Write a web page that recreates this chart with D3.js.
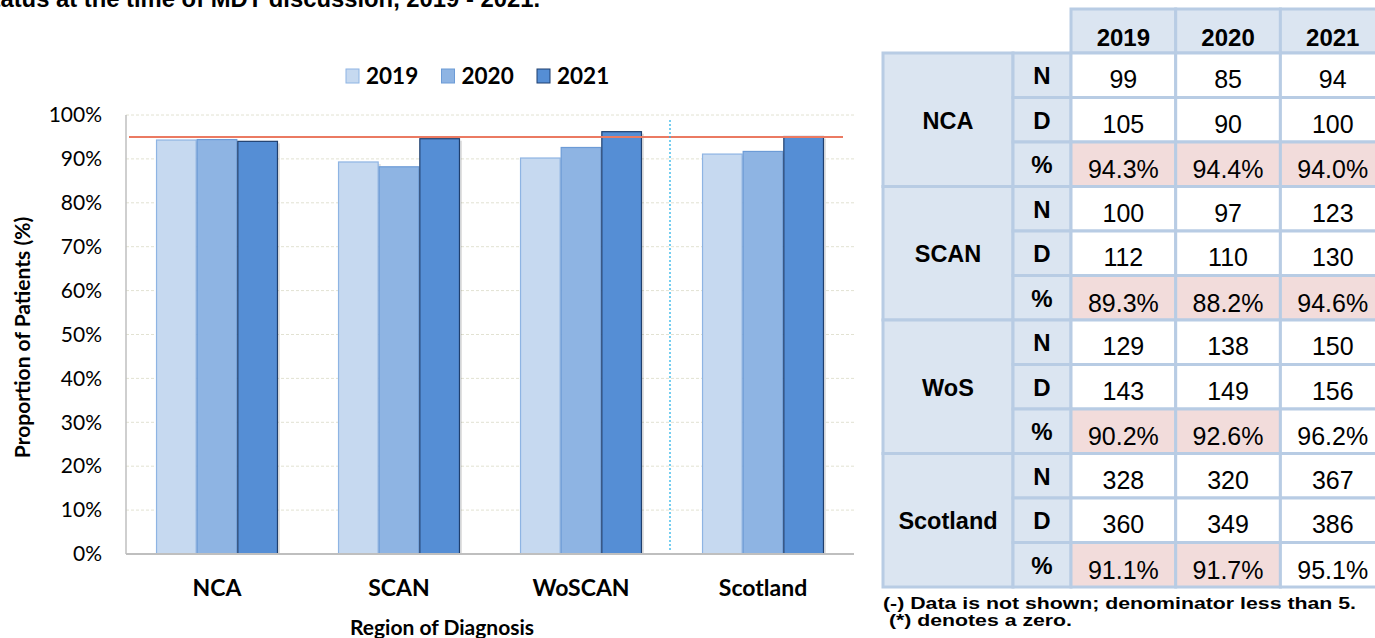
<!DOCTYPE html>
<html>
<head>
<meta charset="utf-8">
<script src="https://cdn.jsdelivr.net/npm/d3@7"></script>
<style>
  html, body { margin: 0; padding: 0; background: #fff; }
  svg { display: block; }
</style>
</head>
<body>
<svg id="chart" width="1375" height="638"></svg>
<script>
// ---- data ----
const years = ["2019", "2020", "2021"];
const chartRegions = ["NCA", "SCAN", "WoSCAN", "Scotland"];
const tableRegions = ["NCA", "SCAN", "WoS", "Scotland"];
const numerators = [
  [99, 85, 94],
  [100, 97, 123],
  [129, 138, 150],
  [328, 320, 367]
];
const denominators = [
  [105, 90, 100],
  [112, 110, 130],
  [143, 149, 156],
  [360, 349, 386]
];
const percents = [
  [94.3, 94.4, 94.0],
  [89.3, 88.2, 94.6],
  [90.2, 92.6, 96.2],
  [91.1, 91.7, 95.1]
];
const target = 95;
const yTicks = [0, 10, 20, 30, 40, 50, 60, 70, 80, 90, 100];
const rowLabels = ["N", "D", "%"];
const footnotes = ["(-) Data is not shown; denominator less than 5.", " (*) denotes a zero."];

// ---- styles ----
const barFill = ["#C6D9F0", "#8EB4E3", "#558ED5"];
const barStroke = ["#8EB4E3", "#6C9BD6", "#1F3F6E"];
const chartFont = "Lato, 'Open Sans', sans-serif";
const tableFont = "'Liberation Sans', Arial, sans-serif";

const svg = d3.select("#chart");

// partially visible heading
svg.append("text")
  .attr("x", 540).attr("y", 7)
  .attr("text-anchor", "end")
  .style("font-family", tableFont).style("font-weight", "bold").style("font-size", "23.8px")
  .text("status at the time of MDT discussion, 2019 - 2021.");

// ---- bar chart ----
const plot = { left: 126, right: 854, top: 115, bottom: 554 };

const x0 = d3.scaleBand()
  .domain(chartRegions)
  .range([plot.left, plot.right])
  .paddingInner(0.33)
  .paddingOuter(0.165);

const x1 = d3.scaleBand()
  .domain(years)
  .range([0, x0.bandwidth()]);

const y = d3.scaleLinear().domain([0, 100]).range([plot.bottom, plot.top]);

// gridlines
svg.append("g")
  .selectAll("line")
  .data(yTicks.filter(d => d > 0))
  .join("line")
  .attr("x1", plot.left).attr("x2", plot.right)
  .attr("y1", d => y(d)).attr("y2", d => y(d))
  .attr("stroke", "#E2E2D2").attr("stroke-width", 1)
  .attr("stroke-dasharray", "3,2");

// y axis labels
const yAxis = svg.append("g")
  .attr("transform", `translate(${plot.left},0)`)
  .call(d3.axisLeft(y).tickValues(yTicks).tickFormat(d => d + "%").tickSize(0).tickPadding(24));
yAxis.select(".domain").remove();
yAxis.selectAll("text")
  .style("font-family", chartFont).style("font-size", "21px").attr("fill", "#000");

// series
const groups = svg.append("g")
  .selectAll("g")
  .data(chartRegions)
  .join("g")
  .attr("transform", d => `translate(${x0(d)},0)`);

// soft shadow behind bars
groups.selectAll("rect.shadow")
  .data((d, i) => years.map((yr, j) => ({ yr, j, v: percents[i][j] })))
  .join("rect")
  .attr("class", "shadow")
  .attr("x", d => x1(d.yr) + 2)
  .attr("y", d => y(d.v) + 2)
  .attr("width", x1.bandwidth())
  .attr("height", d => y(0) - y(d.v) - 2)
  .attr("fill", "#000").attr("opacity", 0.12);

groups.selectAll("rect.bar")
  .data((d, i) => years.map((yr, j) => ({ yr, j, v: percents[i][j] })))
  .join("rect")
  .attr("class", "bar")
  .attr("x", d => x1(d.yr) + 0.5)
  .attr("y", d => y(d.v))
  .attr("width", x1.bandwidth() - 1)
  .attr("height", d => y(0) - y(d.v))
  .attr("fill", d => barFill[d.j])
  .attr("stroke", d => barStroke[d.j])
  .attr("stroke-width", 1.2);

// axes lines
svg.append("line")
  .attr("x1", plot.left).attr("x2", plot.left)
  .attr("y1", plot.top).attr("y2", plot.bottom)
  .attr("stroke", "#BFBFBF").attr("stroke-width", 1.5);
svg.append("line")
  .attr("x1", plot.left).attr("x2", plot.right)
  .attr("y1", plot.bottom).attr("y2", plot.bottom)
  .attr("stroke", "#BFBFBF").attr("stroke-width", 2);

// target line
svg.append("line")
  .attr("x1", plot.left + 3).attr("x2", plot.right - 11)
  .attr("y1", y(target)).attr("y2", y(target))
  .attr("stroke", "#EB7A62").attr("stroke-width", 2);

// separator between boards and national figure
const sepX = (x0("WoSCAN") + x0.bandwidth() + x0("Scotland")) / 2 - 2;
svg.append("line")
  .attr("x1", sepX).attr("x2", sepX)
  .attr("y1", plot.top + 5).attr("y2", plot.bottom - 2)
  .attr("stroke", "#2DB4E8").attr("stroke-width", 1.3)
  .attr("stroke-dasharray", "2,2");

// category axis
const xAxis = svg.append("g")
  .attr("transform", `translate(0,${plot.bottom})`)
  .call(d3.axisBottom(x0).tickSize(0).tickPadding(26));
xAxis.select(".domain").remove();
xAxis.selectAll("text")
  .style("font-family", chartFont).style("font-size", "23px").style("font-weight", "bold")
  .attr("fill", "#000");

// axis titles
svg.append("text")
  .attr("x", 442).attr("y", 635)
  .attr("text-anchor", "middle")
  .style("font-family", chartFont).style("font-size", "21px").style("font-weight", "bold")
  .text("Region of Diagnosis");

svg.append("text")
  .attr("transform", `translate(30,${(plot.top + plot.bottom) / 2 + 3}) rotate(-90)`)
  .attr("text-anchor", "middle")
  .style("font-family", chartFont).style("font-size", "21px").style("font-weight", "bold")
  .text("Proportion of Patients (%)");

// legend
const legend = svg.append("g").attr("transform", "translate(346,76)");
const legendItem = legend.selectAll("g")
  .data(years)
  .join("g")
  .attr("transform", (d, i) => `translate(${i * 95.5},0)`);
legendItem.append("rect")
  .attr("x", 0).attr("y", -7).attr("width", 13).attr("height", 14)
  .attr("fill", (d, i) => barFill[i])
  .attr("stroke", (d, i) => barStroke[i]).attr("stroke-width", 1);
legendItem.append("text")
  .attr("x", 20).attr("y", 0).attr("dy", "0.36em")
  .style("font-family", chartFont).style("font-size", "22.5px").style("font-weight", "bold")
  .text(d => d);

// ---- summary table ----
const tbl = { left: 883, regionW: 130, letterW: 58, colW: 104.7, top: 9, headH: 44, rowH: 44.5 };
const border = "#B8CCE4";
const headFill = "#DBE5F1";
const flagFill = "#F2DCDB";
const colX = j => tbl.left + tbl.regionW + tbl.letterW + j * tbl.colW;
const rowY = r => tbl.top + tbl.headH + r * tbl.rowH;
const table = svg.append("g");

// header cells
const head = table.append("g").selectAll("g").data(years).join("g");
head.append("rect")
  .attr("x", (d, j) => colX(j)).attr("y", tbl.top)
  .attr("width", tbl.colW).attr("height", tbl.headH)
  .attr("fill", headFill).attr("stroke", border).attr("stroke-width", 3);
head.append("text")
  .attr("x", (d, j) => colX(j) + tbl.colW / 2).attr("y", tbl.top + 37)
  .attr("text-anchor", "middle")
  .style("font-family", tableFont).style("font-size", "24px").style("font-weight", "bold")
  .text(d => d);

// body rows
tableRegions.forEach((reg, i) => {
  const g = table.append("g");
  const top = rowY(i * 3);
  g.append("rect")
    .attr("x", tbl.left).attr("y", top)
    .attr("width", tbl.regionW).attr("height", tbl.rowH * 3)
    .attr("fill", headFill).attr("stroke", border).attr("stroke-width", 3);
  g.append("text")
    .attr("x", tbl.left + tbl.regionW / 2).attr("y", top + tbl.rowH * 1.5 + 9)
    .attr("text-anchor", "middle")
    .style("font-family", tableFont).style("font-size", "23.5px").style("font-weight", "bold")
    .text(reg);

  const rows = [numerators[i].map(String), denominators[i].map(String), percents[i].map(v => v.toFixed(1) + "%")];
  rows.forEach((vals, r) => {
    const ry = rowY(i * 3 + r);
    g.append("rect")
      .attr("x", tbl.left + tbl.regionW).attr("y", ry)
      .attr("width", tbl.letterW).attr("height", tbl.rowH)
      .attr("fill", headFill).attr("stroke", border).attr("stroke-width", 3);
    g.append("text")
      .attr("x", tbl.left + tbl.regionW + tbl.letterW / 2).attr("y", ry + 31)
      .attr("text-anchor", "middle")
      .style("font-family", tableFont).style("font-size", "24px").style("font-weight", "bold")
      .text(rowLabels[r]);
    vals.forEach((txt, j) => {
      const flagged = r === 2 && percents[i][j] < target;
      g.append("rect")
        .attr("x", colX(j)).attr("y", ry)
        .attr("width", tbl.colW).attr("height", tbl.rowH)
        .attr("fill", flagged ? flagFill : "#fff")
        .attr("stroke", border).attr("stroke-width", 3);
      g.append("text")
        .attr("x", colX(j) + tbl.colW / 2).attr("y", ry + (r === 2 ? 36 : 35))
        .attr("text-anchor", "middle")
        .style("font-family", tableFont).style("font-size", "25px")
        .text(txt);
    });
  });
});

// footnotes
svg.append("g").selectAll("text")
  .data(footnotes)
  .join("text")
  .attr("x", 883).attr("y", (d, i) => 609 + i * 17)
  .attr("textLength", (d, i) => i === 0 ? 473 : 189)
  .attr("lengthAdjust", "spacingAndGlyphs")
  .style("font-family", tableFont).style("font-size", "16.5px").style("font-weight", "bold")
  .style("white-space", "pre")
  .text(d => d);
</script>
</body>
</html>
